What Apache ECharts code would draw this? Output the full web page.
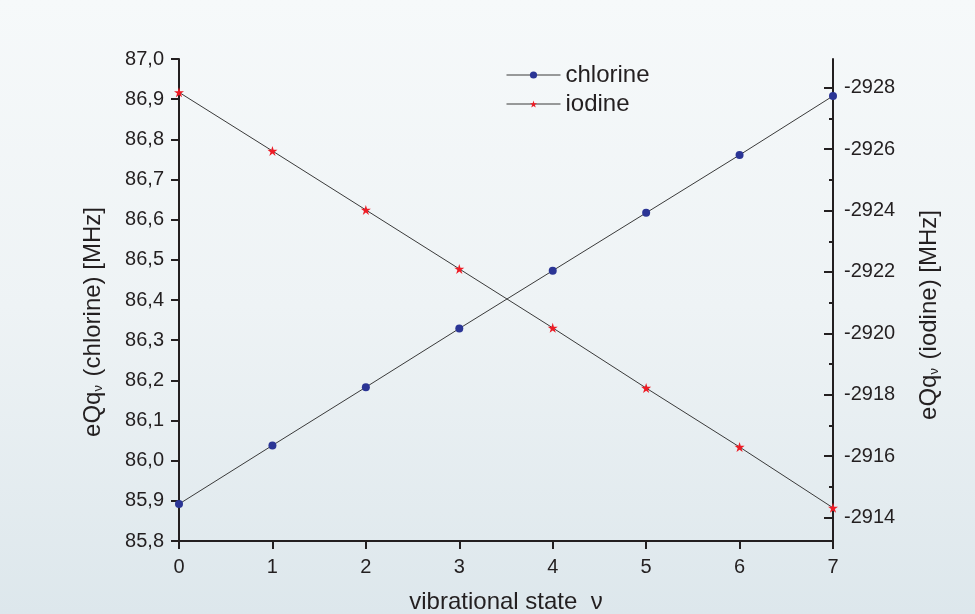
<!DOCTYPE html>
<html>
<head>
<meta charset="utf-8">
<script src="https://cdn.jsdelivr.net/npm/echarts@6/dist/echarts.min.js"></script>
<style>
html,body{margin:0;padding:0;}
#c{width:975px;height:614px;}
</style>
</head>
<body>
<div id="c"></div>
<script>
const states = [0, 1, 2, 3, 4, 5, 6, 7];
const chlorine = [85.892, 86.038, 86.183, 86.329, 86.473, 86.617, 86.761, 86.908];
const iodine = [-2927.85, -2925.94, -2924.02, -2922.10, -2920.18, -2918.22, -2916.30, -2914.32];
const iodineLabels = [-2928, -2926, -2924, -2922, -2920, -2918, -2916, -2914];
const iodineMinor = [-2927, -2925, -2923, -2921, -2919, -2917, -2915];
const seriesNames = ['chlorine', 'iodine'];

const FONT = 'Liberation Sans, Arial, Helvetica, sans-serif';
const TXT = '#231f20';
const AX = '#231f20';
const STAR = 'path://M50,0 L61.8,36.2 L100,36.2 L69.1,58.8 L80.9,95.1 L50,72.7 L19.1,95.1 L30.9,58.8 L0,36.2 L38.2,36.2 Z';
const R_MIN = -2928.935, R_MAX = -2913.24;

const chart = echarts.init(document.getElementById('c'), null, {renderer: 'canvas'});
const nameRich = {
  n: {fontSize: 24, fontFamily: FONT, color: TXT, verticalAlign: 'middle'},
  s: {fontSize: 13, fontFamily: FONT, color: TXT, verticalAlign: 'bottom', padding: [0, 2, 0, 0]}
};
chart.setOption({
  backgroundColor: {
    type: 'linear', x: 0, y: 0, x2: 0, y2: 1,
    colorStops: [{offset: 0, color: '#f6f9fa'}, {offset: 0.5, color: '#eef3f5'}, {offset: 1, color: '#dde7ec'}]
  },
  animation: false,
  textStyle: {fontFamily: FONT},
  grid: {left: 179, right: 142, top: 59, bottom: 73, containLabel: false, outerBoundsMode: 'none'},
  legend: {
    orient: 'vertical', left: 501, top: 58, itemWidth: 54, itemHeight: 9, itemGap: 5,
    textStyle: {fontSize: 24, color: TXT, fontFamily: FONT, padding: [0, 0, 0, 0]},
    lineStyle: {width: 1},
    data: seriesNames
  },
  xAxis: {
    type: 'value', min: 0, max: 7, interval: 1,
    name: 'vibrational state  ν', nameLocation: 'middle', nameGap: 49,
    nameTextStyle: {fontSize: 24, color: TXT, fontFamily: FONT},
    axisLine: {show: true, lineStyle: {color: AX, width: 2}},
    axisTick: {show: true, inside: false, length: 8, lineStyle: {color: AX, width: 2}},
    axisLabel: {fontSize: 20, color: TXT, fontFamily: FONT, margin: 16},
    splitLine: {show: false}
  },
  yAxis: [
    {
      type: 'value', min: 85.8, max: 87.0, interval: 0.1, position: 'left',
      name: '{n|eQq}{s|ν}{n| (chlorine) [MHz]}', nameLocation: 'middle', nameGap: 74, nameRotate: 90,
      nameTextStyle: {rich: nameRich, padding: [0, 44, 0, 0]},
      axisLine: {show: true, lineStyle: {color: AX, width: 2}},
      axisTick: {show: true, inside: false, length: 8, lineStyle: {color: AX, width: 2}},
      axisLabel: {fontSize: 20, color: TXT, fontFamily: FONT, margin: 15,
        formatter: v => v.toFixed(1).replace('.', ',')},
      splitLine: {show: false}
    },
    {
      type: 'value', min: R_MIN, max: R_MAX, inverse: true, position: 'right',
      name: '{n|eQq}{s|ν}{n| (iodine) [MHz]}', nameLocation: 'middle', nameGap: 84, nameRotate: 90,
      nameTextStyle: {rich: nameRich, padding: [0, 30, 0, 0]},
      axisLine: {show: true, onZero: false, lineStyle: {color: AX, width: 2}},
      axisTick: {show: true, inside: true, length: 9, customValues: iodineLabels, lineStyle: {color: AX, width: 2}},
      axisLabel: {fontSize: 20, color: TXT, fontFamily: FONT, margin: 11, customValues: iodineLabels,
        formatter: v => String(Math.round(v))},
      splitLine: {show: false}
    },
    {
      type: 'value', min: R_MIN, max: R_MAX, inverse: true, position: 'right',
      axisLine: {show: false},
      axisTick: {show: true, inside: true, length: 4, customValues: iodineMinor, lineStyle: {color: AX, width: 2}},
      axisLabel: {show: false},
      splitLine: {show: false}
    }
  ],
  series: [
    {
      name: seriesNames[0], type: 'line', yAxisIndex: 0,
      data: states.map((x, i) => [x, chlorine[i]]),
      symbol: 'circle', symbolSize: 8,
      itemStyle: {color: '#2b3595'},
      lineStyle: {color: '#3a3a3a', width: 1},
      z: 3
    },
    {
      name: seriesNames[1], type: 'line', yAxisIndex: 1,
      data: states.map((x, i) => [x, iodine[i]]),
      symbol: STAR, symbolSize: 10,
      itemStyle: {color: '#ee1c25'},
      lineStyle: {color: '#3a3a3a', width: 1},
      z: 3
    }
  ]
});
</script>
</body>
</html>
